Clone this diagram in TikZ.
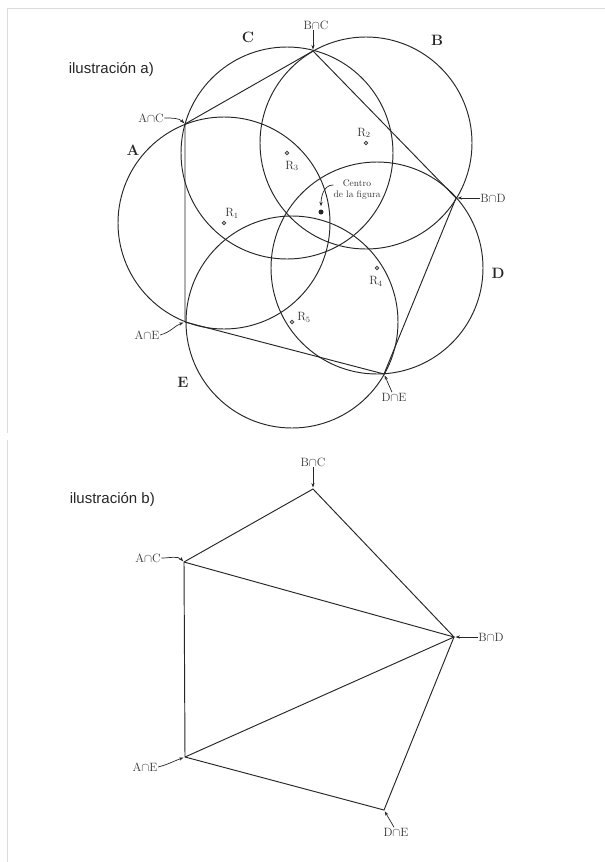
\documentclass[tikz,border=0pt]{standalone}
\usepackage{fontspec}
\newfontfamily\labsans{Liberation Sans}
\usetikzlibrary{arrows.meta}
\begin{document}
\begin{tikzpicture}[x=1pt,y=-1pt,
  circ/.style={line width=0.95pt, draw=black!85},
  edge/.style={line width=0.95pt, draw=black!85},
  lab/.style={font=\fontsize{12}{13}\selectfont, inner sep=0.5pt, text=black!80},
  big/.style={font=\fontsize{15}{16}\selectfont\bfseries, inner sep=0pt, text=black!85},
  rlab/.style={font=\fontsize{12}{13}\selectfont, inner sep=0pt, text=black!80},
  title/.style={font=\labsans\fontsize{15}{17}\selectfont, inner sep=0pt, text=black!85},
  cdot/.style={circle, draw=black!75, line width=0.8pt, fill=white, inner sep=0pt, minimum size=3.4pt},
  bigdot/.style={circle, fill=black!85, inner sep=0pt, minimum size=5pt},
  ptr/.style={-{Stealth[length=4.5pt,width=3.2pt]}, line width=0.7pt, draw=black!85},
  frame/.style={draw=black!14, line width=1pt}]
\useasboundingbox (0,0) rectangle (605,862);
% frames
\draw[frame] (7,8) -- (605,8);
\draw[frame] (7,8) -- (7,433);
\draw[frame] (7,440) -- (7,862);

% ---------- ilustracion a ----------
\node[title, anchor=east] (ta) at (154,70) {ilustración a)};

% circle centres
\coordinate (cA) at (224,223);
\coordinate (cB) at (366,143);
\coordinate (cC) at (287,153);
\coordinate (cD) at (377,268);
\coordinate (cE) at (292,322);
\foreach \c in {cA,cB,cC,cD,cE} \draw[circ] (\c) circle[radius=106];

% pentagon vertices
\coordinate (AC) at (185,124);
\coordinate (BC) at (313,51);
\coordinate (BD) at (456,198);
\coordinate (DE) at (384,374);
\coordinate (AE) at (185,322);
\draw[edge] (AC) -- (BC) -- (BD) -- (DE) -- (AE) -- cycle;

% circle names
\node[big] (nA) at (133,150) {A};
\node[big] (nB) at (437,40) {B};
\node[big] (nC) at (248,37) {C};
\node[big] (nD) at (498,273) {D};
\node[big] (nE) at (183,382) {E};

% centres R
\node[cdot] (r1) at (cA) {};
\node[cdot] (r2) at (cB) {};
\node[cdot] (r3) at (cC) {};
\node[cdot] (r4) at (cD) {};
\node[cdot] (r5) at (cE) {};
\node[rlab] (lr1) at (232,213) {R$_1$};
\node[rlab] (lr2) at (364,133) {R$_2$};
\node[rlab] (lr3) at (292,166) {R$_3$};
\node[rlab] (lr4) at (376,281) {R$_4$};
\node[rlab] (lr5) at (304,317) {R$_5$};

% centre of the figure
\node[bigdot] (cf) at (321,212) {};
\node[font=\fontsize{9.5}{11}\selectfont, align=center, inner sep=0pt, text=black!80] (cft) at (357,190) {Centro\\de la figura};
\draw[ptr, shorten >=3pt] (cft.168) to[out=180, in=90] (cf.north);

% intersection labels
\node[lab] (lAC) at (151,118) {A$\cap$C};
\node[lab] (lBC) at (316,25) {B$\cap$C};
\node[lab] (lBD) at (493,198) {B$\cap$D};
\node[lab] (lDE) at (394,397) {D$\cap$E};
\node[lab] (lAE) at (147,335) {A$\cap$E};
\draw[ptr, shorten >=1pt] (lAC.east) to[out=0, in=135] (AC);
\draw[ptr, shorten >=1.5pt] (lBC.south -| BC) -- (BC);
\draw[ptr, shorten >=1.5pt] (lBD.west) -- (BD);
\draw[ptr, shorten >=1.5pt] ([xshift=-2pt]lDE.north) -- (DE);
\draw[ptr, shorten >=1.5pt] (lAE.east) to[out=15, in=200] (AE);

% ---------- ilustracion b ----------
\node[title, anchor=east] (tb) at (155,500) {ilustración b)};
\coordinate (bAC) at (184,562);
\coordinate (bBC) at (313,489);
\coordinate (bBD) at (454,637);
\coordinate (bDE) at (384,810);
\coordinate (bAE) at (185,757);
\draw[edge] (bAC) -- (bBC) -- (bBD) -- (bDE) -- (bAE) -- cycle;
\draw[edge] (bAC) -- (bBD) -- (bAE);

\node[lab] (blAC) at (148,558) {A$\cap$C};
\node[lab] (blBC) at (313,462) {B$\cap$C};
\node[lab] (blBD) at (491,637) {B$\cap$D};
\node[lab] (blDE) at (396,832) {D$\cap$E};
\node[lab] (blAE) at (145,767) {A$\cap$E};
\draw[ptr, shorten >=1pt] (blAC.east) to[out=0, in=135] (bAC);
\draw[ptr, shorten >=1.5pt] (blBC.south -| bBC) -- (bBC);
\draw[ptr, shorten >=1.5pt] (blBD.west) -- (bBD);
\draw[ptr, shorten >=1.5pt] ([xshift=-2pt]blDE.north) -- (bDE);
\draw[ptr, shorten >=1.5pt] (blAE.east) to[out=15, in=200] (bAE);
\end{tikzpicture}
\end{document}
